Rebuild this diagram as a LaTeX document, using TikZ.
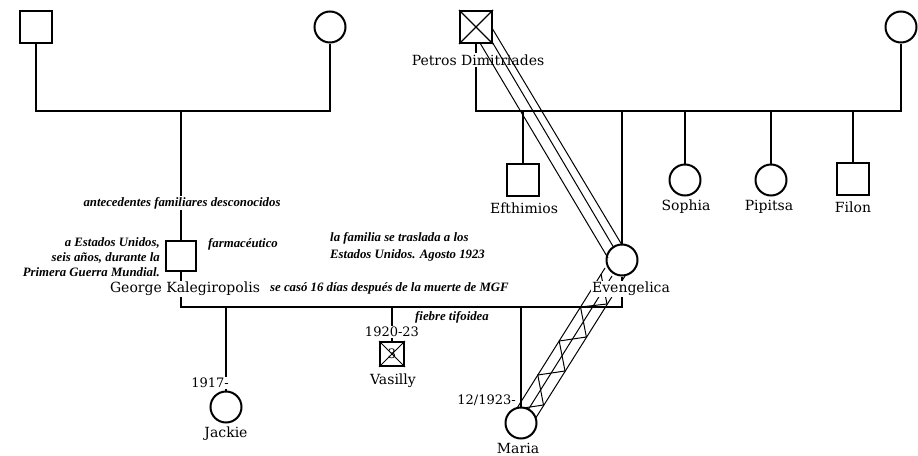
\documentclass[tikz,border=0pt]{standalone}
\usepackage{fontspec}
\setmainfont{DejaVu Serif}
\newfontfamily\annfont{Liberation Serif}
\usetikzlibrary{calc,backgrounds}
\begin{document}
\begin{tikzpicture}[x=1pt,y=-1pt,
  male/.style={draw, rectangle, line width=2pt, minimum size=32pt, inner sep=0pt, fill=white},
  female/.style={draw, circle, line width=2pt, minimum size=31pt, inner sep=0pt, fill=white},
  nm/.style={font=\fontsize{14}{16}\selectfont, inner sep=1.5pt, fill=white},
  dt/.style={font=\fontsize{13}{15}\selectfont, inner sep=1pt, fill=white},
  ann/.style={font=\annfont\bfseries\itshape\fontsize{12.8}{15}\selectfont, inner sep=1pt},
  rel/.style={line width=1.5pt},
  dia/.style={line width=1pt}]
\useasboundingbox (0,0) rectangle (918,455);

% persons
\node[male] (gpl) at (36,27) {};
\node[female] (gml) at (330,27) {};
\node[male] (petros) at (476,27) {};
\draw[line width=1.3pt] (petros.north west) -- (petros.south east) (petros.north east) -- (petros.south west);
\node[nm] (petrosl) at (478,60) {Petros Dimitriades};
\node[female] (gmr) at (901,27) {};

\node[male] (efth) at (523,180) {};
\node[nm] (efthl) at (524,208) {Efthimios};
\node[female] (sophia) at (685,180) {};
\node[nm] (sophial) at (686,207) {Sophia};
\node[female] (pipitsa) at (771,180) {};
\node[nm] (pipitsal) at (769,207) {Pipitsa};
\node[male] (filon) at (853,179) {};
\node[nm] (filonl) at (853,207) {Filon};

\node[female] (evg) at (622,260) {};
\node[nm] (evgl) at (631,289) {Evengelica};

\node[male, minimum size=30pt] (george) at (181,256) {};
\node[nm] (georgel) at (185,289) {George Kalegiropolis};

\node[female] (jackie) at (226,407) {};
\node[nm] (jackiel) at (226,434) {Jackie};
\node[dt] (jackied) at (210,383) {1917-};

\node[male, minimum size=24pt] (vasilly) at (392,354) {};
\draw[line width=1pt] (vasilly.north west) -- (vasilly.south east) (vasilly.north east) -- (vasilly.south west);
\node[font=\fontsize{13}{14}\selectfont, inner sep=0pt] (vasilly3) at (392,354) {3};
\node[nm] (vasillyl) at (393,381) {Vasilly};
\node[dt] (vasillyd) at (392,332) {1920-23};

\node[female] (maria) at (521,423) {};
\node[nm] (marial) at (518,448) {Maria};
\node[dt, anchor=east] (mariad) at (517,400) {12/1923-};

% annotations
\node[ann, fill=white] (antec) at (182,203) {antecedentes familiares desconocidos};
\node[ann, align=right, anchor=east] (usa) at (161,257) {a Estados Unidos,\\seis años, durante la\\Primera Guerra Mundial.};
\node[ann, anchor=west] (farm) at (207,244) {farmacéutico};
\node[ann, align=left, anchor=west] (fam) at (329,247) {la familia se traslada a los\\[2pt]Estados Unidos. Agosto 1923};
\node[ann, anchor=west] (caso) at (269,288) {se casó 16 días después de la muerte de MGF};
\node[ann, anchor=west] (fiebre) at (414,317) {fiebre tifoidea};

% junction points
\coordinate (jl) at (36,111);
\coordinate (jr) at (330,111);
\coordinate (jc) at (181,111);
\coordinate (pj) at (476,111);
\coordinate (rj) at (901,111);
\coordinate (d1) at (523,111);
\coordinate (d2) at (622,111);
\coordinate (d3) at (685,111);
\coordinate (d4) at (771,111);
\coordinate (d5) at (853,111);
\coordinate (ml) at (181,307);
\coordinate (mr) at (622,307);
\coordinate (c1) at (226,307);
\coordinate (c2) at (392,307);
\coordinate (c3) at (521,307);

\begin{scope}[on background layer]
\fill[white] (0,0) rectangle (918,455);
% left grandparents
\draw[rel] (gpl) -- (jl) -- (jr) -- (gml);
\draw[rel] (jc) -- (george);
% right grandparents
\draw[rel] (petros) -- (pj) -- (rj) -- (gmr);
\draw[rel] (d1) -- (efth);
\draw[rel] (d2) -- (evg);
\draw[rel] (d3) -- (sophia);
\draw[rel] (d4) -- (pipitsa);
\draw[rel] (d5) -- (filon);
% marriage George - Evengelica
\draw[rel] (george) -- (ml) -- (mr) -- (evg);
\draw[rel] (c1) -- (jackie);
\draw[rel] (c2) -- (vasilly);
\draw[rel] (c3) -- (maria);
% Evengelica - Maria relation (three lines with zigzag)
\draw[dia] ($(evg)+(-17,8)$) -- ($(maria)+(-4.3,-14.4)$);
\draw[dia] ($(evg)+(-10,16)$) -- ($(maria)+(7,-13)$);
\draw[dia] ($(evg)+(3,16)$) -- ($(maria)+(14.4,-4.4)$);
\draw[dia, line join=miter] (601,274) -- (607,304) -- (580.5,307) -- (586.4,337) -- (559.2,341) -- (565,371) -- (537.8,375) -- (543.5,405) -- (516.5,409);
\end{scope}

% Petros - Evengelica relation (three parallel lines)
\draw[dia] ($(petros)+(4,16)$) -- ($(evg)+(-14,-2)$);
\draw[dia] ($(petros)+(15,13)$) -- ($(evg)+(-8,-12)$);
\draw[dia] ($(petros)+(16,1)$) -- ($(evg)+(0,-15)$);
\end{tikzpicture}
\end{document}
